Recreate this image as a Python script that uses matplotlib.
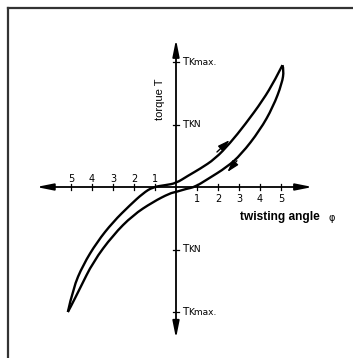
import matplotlib
matplotlib.use('Agg')
import matplotlib.pyplot as plt
from matplotlib.lines import Line2D
from matplotlib.path import Path
from matplotlib.patches import PathPatch

# loop branches (phi in tick units, T in units of TKN)
phi_up = [-5.15, -4.9, -4.43, -3.76, -3.0, -2.19, -1.57, -1.1, -0.5, 0.0,
          0.57, 1.14, 1.86, 2.57, 3.29, 4.14, 4.71, 5.07]
T_up = [-2.0, -1.62, -1.25, -0.88, -0.56, -0.29, -0.1, 0.0, 0.03, 0.06,
        0.18, 0.29, 0.45, 0.70, 1.0, 1.39, 1.71, 1.95]

phi_down = [-5.15, -5.05, -4.57, -3.95, -3.0, -2.05, -1.1, -0.29, 0.0, 0.48,
            0.9, 1.48, 2.43, 3.1, 4.0, 4.62, 5.05, 5.14, 5.07]
T_down = [-2.0, -1.94, -1.62, -1.2, -0.77, -0.45, -0.24, -0.1, -0.08, -0.03,
          0.0, 0.12, 0.32, 0.52, 0.91, 1.28, 1.66, 1.87, 1.95]

x_ticks = [1, 2, 3, 4, 5]
y_ticks = [1, 2]
y_labels = ['KN', 'Kmax.']


def smooth_path(xs, ys):
    # quadratic bezier through midpoints, read points act as control points
    pts = list(zip(xs, ys))
    verts = [pts[0]]
    codes = [Path.MOVETO]
    for i in range(1, len(pts) - 1):
        mid = ((pts[i][0] + pts[i + 1][0]) / 2, (pts[i][1] + pts[i + 1][1]) / 2)
        if i == len(pts) - 2:
            mid = pts[-1]
        verts += [pts[i], mid]
        codes += [Path.CURVE3, Path.CURVE3]
    return Path(verts, codes)


fig = plt.figure(figsize=(3.53, 3.58), dpi=100)
ax = fig.add_axes([0, 0, 1, 1])
ax.set_xlim(-176 / 21, (353 - 176) / 21)
ax.set_ylim(-(358 - 187) / 62.5, 187 / 62.5)
ax.axis('off')

# frame: only top and left edges
fig.add_artist(Line2D([8 / 353, 1], [1 - 8 / 358] * 2, color='#333333', lw=1.6))
fig.add_artist(Line2D([8 / 353] * 2, [1 - 8 / 358, 0], color='#333333', lw=1.6))

aprops = dict(arrowstyle='<|-|>,head_length=1.0,head_width=0.2', color='black',
              lw=1.3, shrinkA=0, shrinkB=0, mutation_scale=10)
# x axis
ax.annotate('', xy=(6.5, 0), xytext=(-6.65, 0), arrowprops=aprops)
# y axis
ax.annotate('', xy=(0, 2.36), xytext=(0, -2.42), arrowprops=aprops)

# x ticks and numbers
for v in x_ticks:
    for s in (1, -1):
        ax.plot([s * v, s * v], [-0.045, 0.045], color='black', lw=0.9)
    ax.text(v, -0.2, str(v), ha='center', va='center', fontsize=7)
    ax.text(-v, 0.12, str(v), ha='center', va='center', fontsize=7)

# y ticks and labels (big T, smaller index)
for v, lab in zip(y_ticks, y_labels):
    for s in (1, -1):
        ax.plot([-0.13, 0.13], [s * v, s * v], color='black', lw=0.9)
        ax.annotate('T', (0.28, s * v), xytext=(0, 0), textcoords='offset points',
                    ha='left', va='center', fontsize=7.5)
        ax.annotate(lab, (0.28, s * v), xytext=(4.4, -0.3),
                    textcoords='offset points', ha='left', va='center',
                    fontsize=6.5)

# hysteresis loop
for xs, ys in ((phi_up, T_up), (phi_down, T_down)):
    ax.add_patch(PathPatch(smooth_path(xs, ys), facecolor='none',
                           edgecolor='black', lw=1.7, joinstyle='round'))

# direction arrows along the branches
small = dict(arrowstyle='-|>,head_length=0.7,head_width=0.22', color='black',
             lw=1.0, shrinkA=0, shrinkB=0, mutation_scale=10)
ax.annotate('', xy=(2.55, 0.75), xytext=(1.95, 0.56), arrowprops=small)
ax.annotate('', xy=(2.45, 0.24), xytext=(2.9, 0.42), arrowprops=small)

# axis titles
ax.text(-0.75, 1.4, 'torque T', rotation=90, ha='center', va='center',
        fontsize=8, family='Liberation Sans')
ax.text(3.05, -0.48, 'twisting angle', ha='left', va='center', fontsize=8.6,
        fontweight='bold', family='Liberation Sans')
ax.text(7.25, -0.5, 'φ', ha='left', va='center', fontsize=7,
        family='DejaVu Sans')

fig.savefig('out.png', dpi=100)
